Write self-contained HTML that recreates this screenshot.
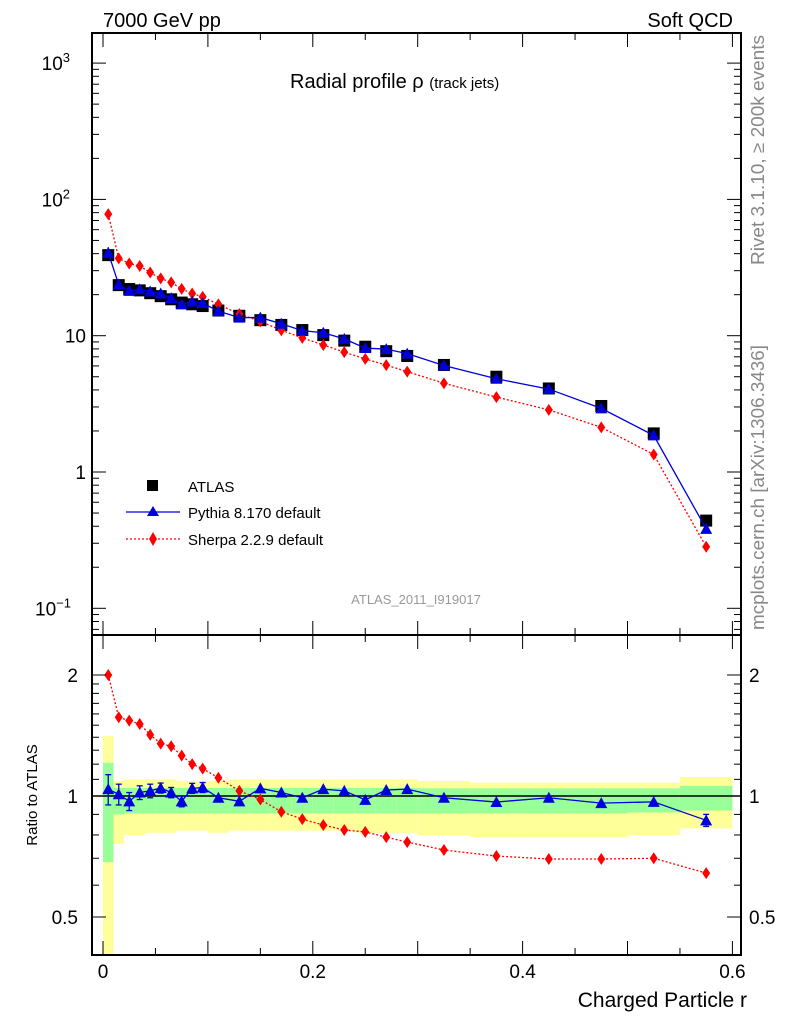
<!DOCTYPE html>
<html><head><meta charset="utf-8">
<style>
html,body{margin:0;padding:0;background:#fff;}
svg{display:block;font-family:"Liberation Sans",sans-serif;}
</style></head>
<body>
<svg id="chart" width="786" height="1024" viewBox="0 0 786 1024" xmlns="http://www.w3.org/2000/svg">
<text x="103" y="27" font-size="20">7000 GeV pp</text>
<text x="733" y="27" font-size="20" text-anchor="end">Soft QCD</text>
<text x="290" y="88" font-size="20">Radial profile ρ <tspan font-size="15">(track jets)</tspan></text>
<text transform="translate(764,265) rotate(-90)" font-size="18" fill="#888" textLength="230" lengthAdjust="spacingAndGlyphs">Rivet 3.1.10, ≥ 200k events</text>
<text transform="translate(764,630) rotate(-90)" font-size="18" fill="#888" textLength="285" lengthAdjust="spacingAndGlyphs">mcplots.cern.ch [arXiv:1306.3436]</text>
<text x="416" y="604" font-size="13" fill="#999" text-anchor="middle">ATLAS_2011_I919017</text>
<text transform="translate(37,795) rotate(-90)" font-size="15" text-anchor="middle">Ratio to ATLAS</text>
<text x="747" y="1007" font-size="21" text-anchor="end">Charged Particle r</text>
<g id="bands"></g>
<g id="main"></g>
<g id="ratio"></g>
<g id="axes"></g>
<g>
 <rect x="147" y="480" width="11" height="11" fill="#000"/>
 <text x="188" y="492" font-size="15">ATLAS</text>
 <line x1="126" y1="512" x2="180" y2="512" stroke="#0000dd" stroke-width="1.3"/>
 <polygon points="153,506 147,516 159,516" fill="#0000dd"/>
 <text x="188" y="518" font-size="15">Pythia 8.170 default</text>
 <line x1="126" y1="539" x2="180" y2="539" stroke="#ff0000" stroke-width="1.3" stroke-dasharray="2,2"/>
 <polygon points="153,532 157,539 153,546 149,539" fill="#ff0000"/>
 <text x="188" y="545" font-size="15">Sherpa 2.2.9 default</text>
</g>
</svg>
<script>
const binEdges=[0,0.01,0.02,0.03,0.04,0.05,0.06,0.07,0.08,0.09,0.1,0.12,0.14,0.16,0.18,0.2,0.22,0.24,0.26,0.28,0.3,0.35,0.4,0.45,0.5,0.55,0.6];
const atlasValues=[39,23.5,22,21.5,20.5,19.5,18.5,17.5,17,16.5,15.3,14,13,12,11,10.1,9.2,8.3,7.7,7.1,6.1,5.0,4.1,3.05,1.92,0.44];
const pythiaRatio=[1.04,1.01,0.97,1.02,1.03,1.047,1.02,0.97,1.045,1.05,0.99,0.97,1.045,1.02,0.99,1.04,1.03,0.978,1.035,1.04,0.99,0.966,0.99,0.96,0.967,0.87];
const pythiaRatioErr=[0.09,0.06,0.05,0.04,0.04,0.03,0.03,0.03,0.03,0.03,0.02,0.02,0.02,0.015,0.015,0.015,0.015,0.015,0.015,0.015,0.01,0.01,0.01,0.01,0.01,0.03];
const sherpaRatio=[2.0,1.57,1.54,1.51,1.42,1.35,1.33,1.26,1.2,1.17,1.11,1.03,0.98,0.914,0.876,0.847,0.823,0.814,0.79,0.768,0.734,0.709,0.697,0.697,0.70,0.643];
const statUp=[1.21,1.047,1.047,1.047,1.047,1.047,1.047,1.047,1.047,1.047,1.047,1.047,1.047,1.047,1.047,1.047,1.047,1.047,1.047,1.047,1.045,1.045,1.045,1.045,1.045,1.06];
const statLo=[0.685,0.9,0.905,0.905,0.905,0.905,0.905,0.905,0.905,0.905,0.905,0.905,0.905,0.905,0.905,0.905,0.905,0.905,0.905,0.905,0.905,0.905,0.905,0.905,0.91,0.92];
const totUp=[1.41,1.09,1.1,1.1,1.1,1.1,1.1,1.09,1.09,1.09,1.09,1.1,1.1,1.1,1.1,1.1,1.1,1.1,1.1,1.1,1.09,1.08,1.08,1.08,1.08,1.115];
const totLo=[0.3,0.76,0.8,0.8,0.81,0.81,0.81,0.82,0.82,0.82,0.81,0.82,0.82,0.82,0.82,0.82,0.82,0.81,0.81,0.81,0.8,0.79,0.79,0.79,0.8,0.83];
const xTicks=[0,0.2,0.4,0.6];
const NS="http://www.w3.org/2000/svg";
const L=92,R=741,T=33,MB=635,RB=955;
const X=v=>103+v*1049;
const YM=v=>472-136.3*Math.log10(v);
const YR=v=>796-402*Math.log10(v);
function el(tag,attrs,parent){const e=document.createElementNS(NS,tag);for(const k in attrs)e.setAttribute(k,attrs[k]);parent.appendChild(e);return e;}
const bands=document.getElementById('bands'),main=document.getElementById('main'),ratio=document.getElementById('ratio'),axes=document.getElementById('axes');
const clipTop=640,clipBot=RB;
const cl=(y)=>Math.max(clipTop,Math.min(clipBot,y));
const n=atlasValues.length;
const cx=[];for(let i=0;i<n;i++)cx.push((binEdges[i]+binEdges[i+1])/2);
for(let i=0;i<n;i++){
 const x1=X(binEdges[i]),x2=X(binEdges[i+1]);
 const y=el('rect',{x:x1,y:cl(YR(totUp[i])),width:x2-x1,height:cl(YR(totLo[i]))-cl(YR(totUp[i])),fill:'#ffff99'},bands);
 
 
 const g=el('rect',{x:x1,y:cl(YR(statUp[i])),width:x2-x1,height:cl(YR(statLo[i]))-cl(YR(statUp[i])),fill:'#99ff99'},bands);
 
 
}
el('line',{x1:L,y1:YR(1),x2:R,y2:YR(1),stroke:'#000','stroke-width':1.5},bands);
const pyVals=atlasValues.map((v,i)=>v*pythiaRatio[i]);
const shVals=atlasValues.map((v,i)=>v*sherpaRatio[i]);
function poly(vals,fx,fy,color,dash,parent,name){
 const p=el('polyline',{points:vals.map((v,i)=>fx(cx[i])+','+fy(v)).join(' '),fill:'none',stroke:color,'stroke-width':1.3},parent);
 if(dash)p.setAttribute('stroke-dasharray','2,2');
 
 
}
function diamond(x,y,parent){const d=el('polygon',{points:`${x},${y-6} ${x+4},${y} ${x},${y+6} ${x-4},${y}`,fill:'#ff0000'},parent);
 
 }
function tri(x,y,parent){const t=el('polygon',{points:`${x},${y-6} ${x-6},${y+5} ${x+6},${y+5}`,fill:'#0000dd'},parent);
 
 }
poly(shVals,X,YM,'#ff0000',true,main,'sherpa-line');
for(let i=0;i<n;i++){
 const s=el('rect',{x:X(cx[i])-6,y:YM(atlasValues[i])-6,width:12,height:12,fill:'#000'},main);
 
 
}
poly(pyVals,X,YM,'#0000dd',false,main,'pythia-line');
for(let i=0;i<n;i++){diamond(X(cx[i]),YM(shVals[i]),main);tri(X(cx[i]),YM(pyVals[i]),main);}
el('line',{x1:X(cx[0]),y1:YM(pyVals[0]*1.1),x2:X(cx[0]),y2:YM(pyVals[0]*0.92),stroke:'#0000dd','stroke-width':1.3},main);
poly(sherpaRatio,X,YR,'#ff0000',true,ratio,'sherpa-ratio-line');
poly(pythiaRatio,X,YR,'#0000dd',false,ratio,'pythia-ratio-line');
for(let i=0;i<n;i++){
 const x=X(cx[i]);
 const e=el('line',{x1:x,y1:YR(pythiaRatio[i]+pythiaRatioErr[i]),x2:x,y2:YR(pythiaRatio[i]-pythiaRatioErr[i]),stroke:'#0000dd','stroke-width':1.3},ratio);
 
 
 if(pythiaRatioErr[i]>0.02){
  el('line',{x1:x-3,y1:YR(pythiaRatio[i]+pythiaRatioErr[i]),x2:x+3,y2:YR(pythiaRatio[i]+pythiaRatioErr[i]),stroke:'#0000dd','stroke-width':1.3},ratio);
  el('line',{x1:x-3,y1:YR(pythiaRatio[i]-pythiaRatioErr[i]),x2:x+3,y2:YR(pythiaRatio[i]-pythiaRatioErr[i]),stroke:'#0000dd','stroke-width':1.3},ratio);
 }
 diamond(x,YR(sherpaRatio[i]),ratio);tri(x,YR(pythiaRatio[i]),ratio);
}
el('rect',{x:L,y:T,width:R-L,height:MB-T,fill:'none',stroke:'#000','stroke-width':2},axes);
el('rect',{x:L,y:MB,width:R-L,height:RB-MB,fill:'none',stroke:'#000','stroke-width':2},axes);
for(let k=0;k<=12;k++){
 const v=k*0.05,x=X(v),len=(k%2===0)?14:7;
 el('line',{x1:x,y1:T,x2:x,y2:T+len,stroke:'#000'},axes);
 el('line',{x1:x,y1:MB,x2:x,y2:MB-len,stroke:'#000'},axes);
 el('line',{x1:x,y1:MB,x2:x,y2:MB+len,stroke:'#000'},axes);
 el('line',{x1:x,y1:RB,x2:x,y2:RB-len,stroke:'#000'},axes);
}
xTicks.forEach(v=>{const t=el('text',{x:X(v),y:978,'font-size':19,'text-anchor':'middle'},axes);t.textContent=String(v);
 
 });
for(let d=-2;d<=3;d++){
 for(let m=1;m<10;m++){
  const v=Math.pow(10,d)*m,y=YM(v);
  if(y<T||y>MB)continue;
  const len=m===1?14:7;
  el('line',{x1:L,y1:y,x2:L+len,y2:y,stroke:'#000'},axes);
  el('line',{x1:R,y1:y,x2:R-len,y2:y,stroke:'#000'},axes);
 }
}
const yl=[[-1,'10','−1'],[0,'1',''],[1,'10',''],[2,'10','2'],[3,'10','3']];
yl.forEach(([d,b,e])=>{const t=el('text',{x:86,y:YM(Math.pow(10,d))+7,'font-size':19,'text-anchor':'end'},axes);
 t.textContent=b;if(e){const s=el('tspan',{dy:-8,'font-size':13},t);s.textContent=e;}
 if(e)t.setAttribute('x',e==='−1'?71:70);
 if(e)t.setAttribute('text-anchor','end');
 
 });
const rt=[0.4,0.5,0.6,0.7,0.8,0.9,1,1.1,1.2,1.3,1.4,1.5,1.6,1.7,1.8,1.9,2];
rt.forEach(v=>{const y=YR(v);if(y<MB||y>RB)return;const len=(v===0.5||v===1||v===2)?14:7;
 el('line',{x1:L,y1:y,x2:L+len,y2:y,stroke:'#000'},axes);el('line',{x1:R,y1:y,x2:R-len,y2:y,stroke:'#000'},axes);});
[[2,'2'],[1,'1'],[0.5,'0.5']].forEach(([v,s])=>{
 const a=el('text',{x:78,y:YR(v)+7,'font-size':19,'text-anchor':'end'},axes);a.textContent=s;
 
 
 const b=el('text',{x:749,y:YR(v)+7,'font-size':19},axes);b.textContent=s;
 
 });
</script>
</body></html>
